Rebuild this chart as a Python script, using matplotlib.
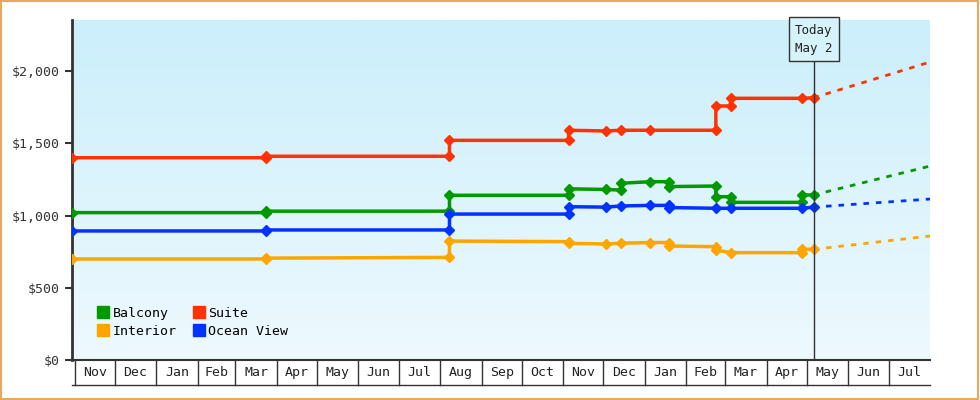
import matplotlib
matplotlib.use("Agg")
import matplotlib.pyplot as plt
import matplotlib.dates as mdates
import numpy as np
from matplotlib.colors import LinearSegmentedColormap

plt.rcParams['font.family'] = ['DejaVu Sans Mono']

# data (dates, values) per series
suite_dates = ["2022-10-30","2023-03-24","2023-03-24","2023-08-08","2023-08-08","2023-11-05","2023-11-05","2023-12-03","2023-12-14","2024-01-05","2024-02-23","2024-02-23","2024-03-05","2024-03-05","2024-04-27","2024-05-06"]
suite_vals  = [1400,1400,1410,1410,1520,1520,1590,1585,1590,1590,1590,1758,1758,1811,1811,1815]
balc_dates = ["2022-10-30","2023-03-24","2023-03-24","2023-08-08","2023-08-08","2023-11-05","2023-11-05","2023-12-03","2023-12-14","2023-12-14","2024-01-05","2024-01-19","2024-01-19","2024-02-23","2024-02-23","2024-03-05","2024-03-05","2024-04-27","2024-04-27","2024-05-06"]
balc_vals  = [1020,1020,1030,1030,1140,1140,1185,1180,1176,1223,1234,1234,1200,1204,1130,1130,1091,1091,1142,1142]
ocean_dates = ["2022-10-30","2023-03-24","2023-03-24","2023-08-08","2023-08-08","2023-11-05","2023-11-05","2023-12-03","2023-12-14","2024-01-05","2024-01-19","2024-01-19","2024-02-23","2024-03-05","2024-04-27","2024-05-06"]
ocean_vals  = [893,893,900,900,1010,1010,1061,1058,1066,1070,1070,1055,1050,1050,1050,1058]
int_dates = ["2022-10-30","2023-03-24","2023-03-24","2023-08-08","2023-08-08","2023-11-05","2023-11-05","2023-12-03","2023-12-14","2024-01-05","2024-01-19","2024-01-19","2024-02-23","2024-02-23","2024-03-05","2024-04-27","2024-04-27","2024-05-06"]
int_vals  = [699,699,705,710,823,819,807,803,808,813,813,789,784,761,743,743,766,766]
forecast_end = "2024-08-01"
forecast_vals = {"Suite": 2062, "Balcony": 1342, "Ocean View": 1114, "Interior": 858}
today = "2024-05-06"
today_label = "Today\nMay 2"
month_labels = ["Nov","Dec","Jan","Feb","Mar","Apr","May","Jun","Jul","Aug","Sep","Oct","Nov","Dec","Jan","Feb","Mar","Apr","May","Jun","Jul"]
yticks = [0, 500, 1000, 1500, 2000]

colors = {"Balcony": "#009900", "Suite": "#ff3300", "Interior": "#ffa500", "Ocean View": "#0033ff"}
series = {"Balcony": (balc_dates, balc_vals), "Interior": (int_dates, int_vals),
          "Suite": (suite_dates, suite_vals), "Ocean View": (ocean_dates, ocean_vals)}

def d(s):
    return mdates.datestr2num(s)

fig = plt.figure(figsize=(9.8, 4), dpi=100)
fig.patch.set_facecolor("white")
fig.patches.append(plt.Rectangle((0.001, 0.002), 0.997, 0.995, transform=fig.transFigure,
                                 fill=False, edgecolor="#e8a860", linewidth=1.5))
ax = fig.add_axes([72/980, 40/400, 858/980, 340/400])
xmin, xmax = d("2022-10-30"), d("2024-08-01")
ymax = 2353
ax.set_xlim(xmin, xmax)
ax.set_ylim(0, ymax)
grad = np.linspace(0, 1, 256).reshape(-1, 1)
cmap = LinearSegmentedColormap.from_list("g", ["#eef9fe", "#cbeffb"])
ax.imshow(grad, aspect="auto", cmap=cmap, origin="lower", extent=[xmin, xmax, 0, ymax], zorder=0)

handles = []
for name, (ds, vs) in series.items():
    xs = [d(s) for s in ds]
    ax.plot(xs, vs, color=colors[name], lw=2.5, marker="D", ms=5, zorder=3)
    ax.plot([xs[-1], d(forecast_end)], [vs[-1], forecast_vals[name]], color=colors[name],
            lw=2, ls=(0, (2, 2.5)), zorder=3)
    handles.append(plt.Line2D([], [], color=colors[name], marker="s", ls="", ms=8, label=name))

t = d(today)
ax.axvline(t, color="#333333", lw=1, zorder=4)
ax.text(t, ymax - 25, today_label, ha="center", va="top", fontsize=9, color="#222222",
        linespacing=1.5,
        bbox=dict(boxstyle="square,pad=0.5", fc="#d6f2fb", ec="#333333", lw=1), zorder=5)

ax.set_yticks(yticks)
ax.set_yticklabels(["$0"] + [f"${v:,}" for v in yticks[1:]], fontsize=9.5, color="#333333")
ax.tick_params(axis="y", length=5, width=1.5, color="#333333")
ax.set_xticks([])
for s in ["top", "right"]:
    ax.spines[s].set_visible(False)
ax.spines["left"].set_color("#333333"); ax.spines["left"].set_linewidth(2)
ax.spines["bottom"].set_color("#333333"); ax.spines["bottom"].set_linewidth(1.5)

trans = ax.get_xaxis_transform()
starts = []
y0, m0 = 2022, 11
for i in range(len(month_labels) + 1):
    mm = (m0 - 1 + i) % 12 + 1
    yy = y0 + (m0 - 1 + i) // 12
    starts.append(d(f"{yy}-{mm:02d}-01"))
boxb = -25/340
for i, lab in enumerate(month_labels):
    ax.plot([starts[i], starts[i]], [0, boxb], transform=trans, color="#333333", lw=1, clip_on=False)
    ax.text((starts[i] + starts[i+1]) / 2, boxb / 2, lab, transform=trans, ha="center", va="center",
            fontsize=9.5, color="#222222")
ax.plot([xmin, xmax], [boxb, boxb], transform=trans, color="#333333", lw=1, clip_on=False)

ax.legend(handles=handles, ncol=2, loc="lower left", bbox_to_anchor=(0.015, 0.03), frameon=False,
          fontsize=9.5, handletextpad=0.2, columnspacing=1.2, labelspacing=0.4, handlelength=1)

fig.savefig("out.png", dpi=100)
